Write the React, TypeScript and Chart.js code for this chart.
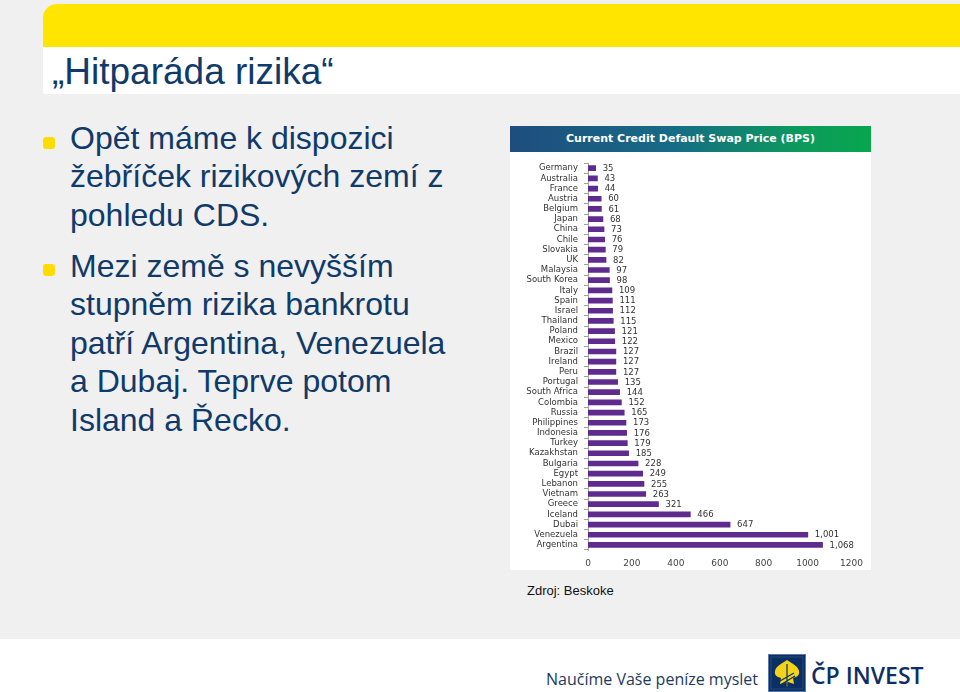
import React, { useEffect, useRef } from "react";
import { Chart, registerables } from "chart.js";

Chart.register(...registerables);

const countries = [
  "Germany", "Australia", "France", "Austria", "Belgium", "Japan", "China", "Chile", "Slovakia", "UK",
  "Malaysia", "South Korea", "Italy", "Spain", "Israel", "Thailand", "Poland", "Mexico", "Brazil", "Ireland",
  "Peru", "Portugal", "South Africa", "Colombia", "Russia", "Philippines", "Indonesia", "Turkey", "Kazakhstan",
  "Bulgaria", "Egypt", "Lebanon", "Vietnam", "Greece", "Iceland", "Dubai", "Venezuela", "Argentina",
];
const cdsValues = [
  35, 43, 44, 60, 61, 68, 73, 76, 79, 82,
  97, 98, 109, 111, 112, 115, 121, 122, 127, 127,
  127, 135, 144, 152, 165, 173, 176, 179, 185,
  228, 249, 255, 263, 321, 466, 647, 1001, 1068,
];
const xTicks = [0, 200, 400, 600, 800, 1000, 1200];
const chartTitle = "Current Credit Default Swap Price (BPS)";
const slideTitle = "\u201EHitparáda rizika\u201C";
const bullet1 = ["Opět máme k dispozici", "žebříček rizikových zemí z", "pohledu CDS."];
const bullet2 = ["Mezi země s nevyšším", "stupněm rizika bankrotu", "patří Argentina, Venezuela", "a Dubaj. Teprve potom", "Island a Řecko."];
const sourceText = "Zdroj: Beskoke";
const slogan = "Naučíme Vaše peníze myslet";
const brand = "ČP INVEST";

const navy = "#0f3a6a";
const chartFont = "'DejaVu Sans', Verdana, sans-serif";

function fmt(v: number) {
  return v.toLocaleString("en-US");
}

const valueLabels = {
  id: "valueLabels",
  afterDatasetsDraw(chart: any) {
    const ctx = chart.ctx;
    const meta = chart.getDatasetMeta(0);
    ctx.save();
    ctx.font = "8.5px " + chartFont;
    ctx.fillStyle = "#333333";
    ctx.textBaseline = "middle";
    ctx.textAlign = "left";
    meta.data.forEach((bar: any, i: number) => {
      const v = chart.data.datasets[0].data[i];
      ctx.fillText(fmt(v), bar.x + 7, bar.y + 0.5);
    });
    ctx.restore();
  },
};

function CdsChart() {
  const ref = useRef<HTMLCanvasElement | null>(null);
  useEffect(() => {
    if (!ref.current) return;
    const chart = new Chart(ref.current, {
      type: "bar",
      data: {
        labels: countries,
        datasets: [
          {
            data: cdsValues,
            backgroundColor: "#5f2b8e",
            borderWidth: 0,
            barThickness: 5,
          },
        ],
      },
      options: {
        indexAxis: "y",
        animation: false,
        responsive: false,
        maintainAspectRatio: false,
        layout: { padding: { top: 10, right: 19, left: 0, bottom: 0 } },
        plugins: { legend: { display: false }, tooltip: { enabled: false }, title: { display: false } },
        scales: {
          x: {
            min: 0,
            max: 1200,
            afterBuildTicks: (scale: any) => {
              scale.ticks = xTicks.map((v) => ({ value: v }));
            },
            afterFit: (scale: any) => {
              scale.height = 20;
            },
            grid: { display: false, drawTicks: false },
            border: { display: false },
            ticks: {
              padding: 8,
              color: "#444444",
              font: { family: chartFont, size: 9 },
              maxRotation: 0,
              callback: (v: any) => String(v),
            },
          },
          y: {
            afterFit: (scale: any) => {
              scale.width = 78;
            },
            grid: { display: true, drawOnChartArea: false, drawTicks: true, tickLength: 4, color: "#a0a0a0", offset: true },
            border: { display: true, color: "#a0a0a0", width: 1 },
            ticks: { padding: 6, color: "#333333", font: { family: chartFont, size: 8.5 }, autoSkip: false },
          },
        },
      },
      plugins: [valueLabels],
    } as any);
    return () => chart.destroy();
  }, []);
  return <canvas ref={ref} width={361} height={418} style={{ display: "block" }} />;
}

function Logo() {
  return (
    <svg width={38} height={38} viewBox="0 0 38 38" style={{ position: "absolute", left: 768, top: 654 }}>
      <rect x={0.5} y={0.5} width={37} height={37} fill="#0b2f63" stroke="#5a7aa8" strokeWidth={1} />
      <rect x={3} y={3} width={32} height={32} fill="#0b2f63" stroke="#2a4f85" strokeWidth={0.8} />
      <path
        d="M19 6 C13 10 8 12 7 17 C6 22 10 23 13 24 L12 30 L18 28 L19 33 L20 28 L26 30 L25 24 C28 23 32 22 31 17 C30 12 25 10 19 6 Z"
        fill="#f2d21a"
      />
      <path d="M12 27 L26 19 M14 30 L27 22 M19 10 L19 31" stroke="#0b2f63" strokeWidth={1.2} fill="none" />
    </svg>
  );
}

export default function App() {
  const bodyStyle: React.CSSProperties = {
    position: "absolute",
    left: 70,
    fontFamily: "'Liberation Sans', Arial, sans-serif",
    fontSize: 32,
    lineHeight: "38.5px",
    color: navy,
    whiteSpace: "nowrap",
  };
  const bulletStyle = (top: number): React.CSSProperties => ({
    position: "absolute",
    left: 43,
    top,
    width: 12,
    height: 12,
    borderRadius: 3,
    background: "#ffdc00",
  });
  return (
    <div
      style={{
        position: "absolute",
        left: 0,
        top: 0,
        width: 960,
        height: 692,
        overflow: "hidden",
        background: "#ffffff",
      }}
    >
      <div style={{ position: "absolute", left: 0, top: 0, width: 960, height: 639, background: "#f0f0f0" }} />
      <div
        style={{
          position: "absolute",
          left: 43,
          top: 4,
          width: 917,
          height: 43,
          background: "#ffe500",
          borderTopLeftRadius: 14,
        }}
      />
      <div style={{ position: "absolute", left: 43, top: 47, width: 917, height: 47, background: "#ffffff" }} />
      <div
        style={{
          position: "absolute",
          left: 52,
          top: 50,
          fontFamily: "'Liberation Sans', Arial, sans-serif",
          fontSize: 37,
          lineHeight: "44px",
          color: navy,
          whiteSpace: "nowrap",
        }}
      >
        {slideTitle}
      </div>

      <div style={bulletStyle(137)} />
      <div style={{ ...bodyStyle, top: 118.5 }}>
        {bullet1.map((l, i) => (
          <div key={i}>{l}</div>
        ))}
      </div>
      <div style={bulletStyle(264)} />
      <div style={{ ...bodyStyle, top: 246.5 }}>
        {bullet2.map((l, i) => (
          <div key={i}>{l}</div>
        ))}
      </div>

      <div
        style={{
          position: "absolute",
          left: 510,
          top: 126,
          width: 361,
          height: 26,
          background: "linear-gradient(to right, #1f4d7e 0%, #166b86 45%, #0c9a5c 80%, #08a64f 100%)",
          color: "#ffffff",
          fontFamily: "'DejaVu Sans', sans-serif",
          fontWeight: 700,
          fontSize: 11,
          lineHeight: "26px",
          textAlign: "center",
          whiteSpace: "nowrap",
        }}
      >
        {chartTitle}
      </div>
      <div style={{ position: "absolute", left: 510, top: 152, width: 361, height: 418, background: "#ffffff" }}>
        <CdsChart />
      </div>

      <div
        style={{
          position: "absolute",
          left: 527,
          top: 583,
          fontFamily: "'Liberation Sans', Arial, sans-serif",
          fontSize: 13,
          lineHeight: "15px",
          color: "#111111",
          whiteSpace: "nowrap",
        }}
      >
        {sourceText}
      </div>

      <div
        style={{
          position: "absolute",
          left: 546,
          top: 669,
          fontFamily: "'Open Sans', sans-serif",
          fontSize: 16,
          lineHeight: "20px",
          color: "#1c3a5e",
          whiteSpace: "nowrap",
        }}
      >
        {slogan}
      </div>
      <Logo />
      <div
        style={{
          position: "absolute",
          left: 811,
          top: 661,
          fontFamily: "'Open Sans', sans-serif",
          fontWeight: 600,
          fontSize: 23,
          lineHeight: "28px",
          color: "#0d2f63",
          whiteSpace: "nowrap",
        }}
      >
        {brand}
      </div>
    </div>
  );
}
